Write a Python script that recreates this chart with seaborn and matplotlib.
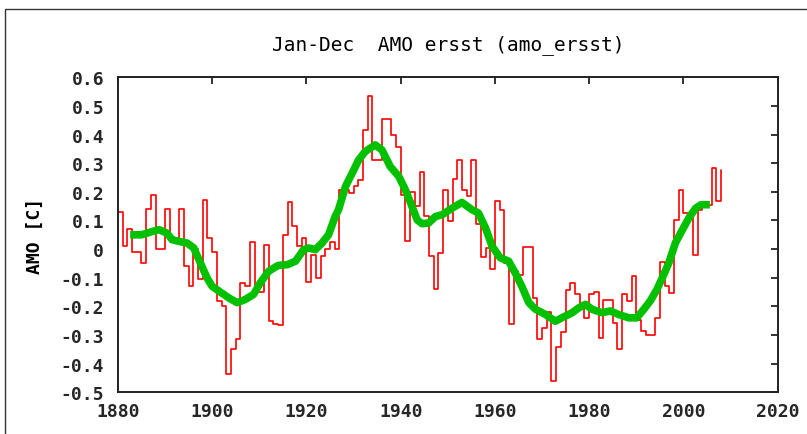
import matplotlib
matplotlib.use("Agg")
import matplotlib.pyplot as plt
import seaborn as sns
import numpy as np
from matplotlib.patches import Rectangle

# === Data ===
years = list(range(1880, 2009))
amo = [
    0.13, 0.01, 0.07, -0.01, -0.01, -0.05, 0.14, 0.19, 0.00, 0.00,      # 1880s
    0.14, 0.035, 0.035, 0.14, -0.06, -0.13, 0.00, -0.105, 0.17, 0.04,   # 1890s
    -0.01, -0.18, -0.20, -0.435, -0.35, -0.315, -0.12, -0.13, 0.025, -0.15,  # 1900s
    -0.15, 0.013, -0.25, -0.26, -0.265, 0.05, 0.164, 0.082, 0.01, 0.039,     # 1910s
    -0.116, -0.019, -0.10, -0.023, 0.0, 0.024, 0.0, 0.207, 0.207, 0.195,     # 1920s
    0.219, 0.242, 0.416, 0.535, 0.312, 0.312, 0.454, 0.454, 0.40, 0.358,     # 1930s
    0.19, 0.03, 0.20, 0.149, 0.269, 0.114, -0.025, -0.139, -0.013, 0.207,    # 1940s
    0.097, 0.245, 0.31, 0.207, 0.184, 0.31, 0.089, -0.027, 0.004, -0.069,    # 1950s
    0.167, 0.138, -0.048, -0.263, -0.077, -0.092, 0.007, 0.007, -0.17, -0.315,  # 1960s
    -0.275, -0.22, -0.46, -0.341, -0.29, -0.143, -0.12, -0.158, -0.19, -0.24,   # 1970s
    -0.155, -0.15, -0.31, -0.178, -0.176, -0.257, -0.35, -0.158, -0.18, -0.095, # 1980s
    -0.246, -0.286, -0.301, -0.301, -0.24, -0.045, -0.13, -0.153, 0.10, 0.207,  # 1990s
    0.126, 0.126, -0.021, 0.138, 0.155, 0.155, 0.283, 0.169, 0.277,             # 2000s
]

# smoothed curve (green), read at the points below
smooth_years = [1882.6, 1885, 1887, 1888.7, 1890.4, 1891.5, 1893, 1894.7, 1896.1, 1897.5,
                1898.9, 1900, 1902, 1903.5, 1905.3, 1907, 1908.8, 1910.2, 1912, 1914,
                1916, 1917.7, 1919.4, 1920.5, 1921.9, 1923.3, 1924.7, 1926.1, 1926.8, 1928.3,
                1929.7, 1931.1, 1932.5, 1934.6, 1936, 1937.8, 1939.6, 1941, 1942.4, 1943.5,
                1944.5, 1945.9, 1947.4, 1948.8, 1950.9, 1953, 1955.1, 1956.5, 1958, 1959.4,
                1961.1, 1962.9, 1964.3, 1965.7, 1967.2, 1968.6, 1970.7, 1972.8, 1974.2, 1976.4,
                1977.8, 1979.2, 1980.6, 1982.7, 1984.5, 1986.2, 1988.4, 1990.1, 1991.6, 1993,
                1994.4, 1995.8, 1996.9, 1998.3, 1999.8, 2001.2, 2002.6, 2003.7, 2005.6]
smooth_vals = [0.05, 0.05, 0.06, 0.068, 0.056, 0.033, 0.027, 0.021, 0.004, -0.048,
               -0.10, -0.13, -0.153, -0.17, -0.187, -0.176, -0.158, -0.118, -0.077, -0.057,
               -0.054, -0.042, -0.002, 0.004, -0.002, 0.021, 0.05, 0.114, 0.137, 0.219,
               0.265, 0.312, 0.341, 0.364, 0.347, 0.288, 0.254, 0.207, 0.149, 0.102,
               0.089, 0.091, 0.114, 0.12, 0.143, 0.163, 0.138, 0.126, 0.074, 0.01,
               -0.03, -0.042, -0.083, -0.13, -0.187, -0.21, -0.228, -0.252, -0.24, -0.222,
               -0.205, -0.193, -0.21, -0.222, -0.216, -0.228, -0.24, -0.24, -0.21, -0.18,
               -0.14, -0.09, -0.048, 0.022, 0.068, 0.11, 0.143, 0.155, 0.155]

xticks = [1880, 1900, 1920, 1940, 1960, 1980, 2000, 2020]
yticks = [0.6, 0.5, 0.4, 0.3, 0.2, 0.1, 0, -0.1, -0.2, -0.3, -0.4, -0.5]
ytick_labels = ["0.6", "0.5", "0.4", "0.3", "0.2", "0.1", "0",
                "-0.1", "-0.2", "-0.3", "-0.4", "-0.5"]

# === Style ===
sns.set_style("white")
plt.rcParams["font.family"] = ["DejaVu Sans Mono", "DejaVu Sans"]

W, H = 807, 435
fig = plt.figure(figsize=(W / 100, H / 100), dpi=100)
ax = fig.add_axes([117.9 / W, 1 - 393.3 / H, (777.7 - 117.9) / W, (393.3 - 78.3) / H])

# outer frame of the screenshot
fig.patches.append(Rectangle((5 / W, -0.1), 1.2, 1 - 10 / H + 0.1, transform=fig.transFigure,
                             fill=False, edgecolor="#333333", linewidth=1.0))

# === Plot ===
sns.lineplot(x=years, y=amo, ax=ax, color="#ff0000", linewidth=1.2,
             drawstyle="steps-post", estimator=None, sort=False)
sns.lineplot(x=smooth_years, y=smooth_vals, ax=ax, color="#00c000", linewidth=5.5,
             estimator=None, sort=False, solid_capstyle="butt")

ax.set_xlim(1880, 2020)
ax.set_ylim(-0.5, 0.6)
ax.set_xticks(xticks)
ax.set_xticklabels([str(t) for t in xticks])
ax.set_yticks(yticks)
ax.set_yticklabels(ytick_labels)
ax.tick_params(axis="both", direction="in", length=5, width=1.3, color="#222222",
               top=True, right=True, labelsize=13)
ax.tick_params(axis="y", pad=10)
ax.tick_params(axis="x", pad=7)
for lab in ax.get_xticklabels() + ax.get_yticklabels():
    lab.set_fontweight("bold")
for sp in ax.spines.values():
    sp.set_visible(True)
    sp.set_color("#222222")
    sp.set_linewidth(1.4)
ax.set_xlabel("")
ax.set_ylabel("")

fig.text(447.8 / W, 1 - 45 / H, "Jan-Dec  AMO ersst (amo_ersst)", ha="center", va="center",
         fontsize=14, color="black")
fig.text(35 / W, 1 - 236 / H, "AMO [C]", ha="center", va="center", rotation=90,
         fontsize=13, fontweight="bold", color="black")

fig.savefig("out.png", dpi=100)
